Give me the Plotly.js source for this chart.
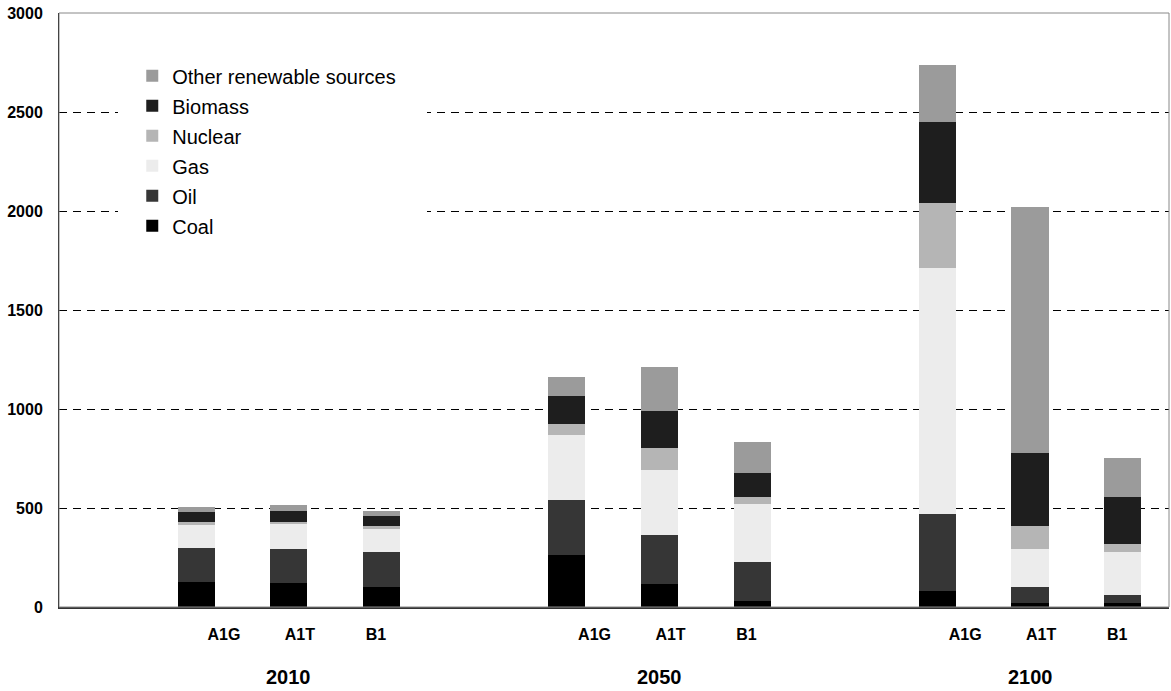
<!DOCTYPE html>
<html>
<head>
<meta charset="utf-8">
<script src="https://cdn.plot.ly/plotly-3.0.1.min.js"></script>
<style>html,body{margin:0;padding:0;background:#fff;}#chart{width:1171px;height:691px;}</style>
</head>
<body>
<div id="chart"></div>
<script>
// Categories
var years = ['2010', '2050', '2100'];
var scenarios = ['A1G', 'A1T', 'B1'];
var yTicks = [0, 500, 1000, 1500, 2000, 2500, 3000];

// Series values, order: 2010 A1G, A1T, B1, 2050 A1G, A1T, B1, 2100 A1G, A1T, B1
var coal    = [126, 121, 101, 263, 116, 30, 79, 20, 20];
var oil     = [172, 172, 177, 277, 248, 197, 390, 79, 40];
var gas     = [116, 126, 116, 329, 328, 293, 1242, 193, 216];
var nuclear = [15, 10, 15, 55, 111, 36, 328, 115, 41];
var biomass = [51, 56, 51, 142, 187, 121, 413, 370, 237];
var otherRenewable = [25, 30, 25, 96, 222, 156, 283, 1241, 198];

var seriesNames = ['Coal', 'Oil', 'Gas', 'Nuclear', 'Biomass', 'Other renewable sources'];
var seriesValues = [coal, oil, gas, nuclear, biomass, otherRenewable];
var seriesColors = ['#000000', '#363636', '#ececec', '#b5b5b5', '#1e1e1e', '#9b9b9b'];

// Positions: each year group occupies scenarios.length slots plus one empty slot
var slotsPerGroup = scenarios.length + 1;
var labelSpread = 0.82, labelShift = 0.12;
var xPos = [], xLabelPos = [], xText = [];
years.forEach(function (y, gi) {
  scenarios.forEach(function (s, si) {
    var c = gi * slotsPerGroup + (scenarios.length - 1) / 2;
    xPos.push(gi * slotsPerGroup + si);
    xLabelPos.push(c + (si - (scenarios.length - 1) / 2) * labelSpread + labelShift);
    xText.push(s);
  });
});
var groupCenters = years.map(function (y, gi) { return gi * slotsPerGroup + (scenarios.length - 1) / 2; });

var traces = seriesNames.map(function (name, i) {
  return {
    type: 'bar',
    name: name,
    legendgroup: 'g' + i,
    legendrank: 1000 - i,
    x: xPos,
    y: seriesValues[i],
    width: 0.4,
    marker: {color: seriesColors[i], line: {width: 0}},
    hoverinfo: 'y+name'
  };
});

var fontFam = '"Liberation Sans", Arial, Helvetica, sans-serif';

var annotations = years.map(function (y, gi) {
  return {
    text: '<b>' + y + '</b>',
    x: groupCenters[gi], xref: 'x',
    y: -0.118, yref: 'paper',
    xanchor: 'center', yanchor: 'middle',
    showarrow: false,
    font: {family: fontFam, size: 20, color: '#000'}
  };
});

var layout = {
  width: 1171, height: 691,
  margin: {l: 59, r: 2, t: 13, b: 84, pad: 0},
  paper_bgcolor: '#fff', plot_bgcolor: '#fff',
  barmode: 'stack',
  bargap: 0,
  font: {family: fontFam, color: '#000'},
  showlegend: true,
  legend: {
    x: 0.066, xanchor: 'left',
    y: 0.927, yanchor: 'top',
    bgcolor: '#ffffff',
    borderwidth: 0,
    traceorder: 'grouped',
    tracegroupgap: 1,
    font: {family: fontFam, size: 20, color: '#000'},
    itemwidth: 30
  },
  xaxis: {
    range: [-1.48, 10.5],
    tickmode: 'array',
    tickvals: xLabelPos,
    ticktext: xText.map(function (t) { return '<b>' + t + '</b>'; }),
    ticks: '',
    ticklabelstandoff: 12,
    tickfont: {family: fontFam, size: 16, color: '#000'},
    showgrid: false,
    zeroline: false,
    showline: true,
    linecolor: '#333',
    linewidth: 2,
    fixedrange: true
  },
  yaxis: {
    range: [0, 3000],
    tickmode: 'array',
    tickvals: yTicks,
    ticktext: yTicks.map(function (t) { return '<b>' + t + '</b>'; }),
    ticks: '',
    ticklabelstandoff: 12,
    tickfont: {family: fontFam, size: 16, color: '#000'},
    showgrid: true,
    gridcolor: '#000',
    gridwidth: 1,
    griddash: '8px,6px',
    zeroline: false,
    showline: true,
    linecolor: '#000',
    linewidth: 1,
    fixedrange: true
  },
  shapes: [{
    // white legend background hiding the gridlines
    type: 'rect', xref: 'paper', yref: 'paper',
    x0: (118 - 59) / 1110, x1: (427 - 59) / 1110,
    y0: (607 - 250) / 594, y1: (607 - 60) / 594,
    line: {width: 0},
    fillcolor: '#ffffff',
    layer: 'above'
  }, {
    type: 'rect', xref: 'paper', yref: 'paper',
    x0: 0, x1: 1, y0: 0, y1: 1,
    line: {color: '#888', width: 1},
    fillcolor: 'rgba(0,0,0,0)',
    layer: 'above'
  }],
  annotations: annotations
};

Plotly.newPlot('chart', traces, layout, {displayModeBar: false, staticPlot: true});
</script>
</body>
</html>
